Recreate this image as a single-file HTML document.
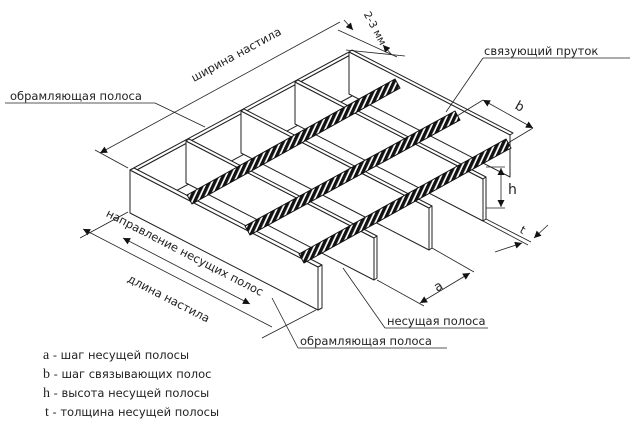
<!DOCTYPE html>
<html><head><meta charset="utf-8"><style>
html,body{margin:0;padding:0;background:#fff;}
svg{display:block}
text{font-family:"DejaVu Sans","Liberation Sans",sans-serif;fill:#222}
</style></head><body>
<svg width="633" height="425" viewBox="0 0 633 425" xmlns="http://www.w3.org/2000/svg">
<defs>
<pattern id="tw" patternUnits="userSpaceOnUse" width="5" height="5" patternTransform="rotate(25)">
<rect width="5" height="5" fill="#fff"/><rect width="3.3" height="5" fill="#111"/>
</pattern>
<marker id="ar" viewBox="0 0 10 10" refX="10" refY="5" markerWidth="10" markerHeight="7" orient="auto-start-reverse" markerUnits="userSpaceOnUse"><path d="M0,0 L10,5 L0,10 z" fill="#111"/></marker>
</defs>
<g stroke="#222" stroke-width="1" fill="#fff" stroke-linejoin="round">
<polygon points="133,172 352,54 352,96 133,214"/>
<polygon points="130,170 349,52 352,54 133,172"/>
<polygon points="349,52 510,135 513,133 352,50"/>
<polygon points="349,52 510,135 510,177 349,94"/>
<polygon points="295,82 483,179 483,221 295,124"/>
<polygon points="295,82 483,179 486,177 298,80"/>
<polygon points="483,179 486,177 486,219 483,221"/>
<polygon points="241,111 429,208 429,250 241,153"/>
<polygon points="241,111 429,208 432,206 244,109"/>
<polygon points="429,208 432,206 432,248 429,250"/>
<polygon points="186,141 374,238 374,280 186,183"/>
<polygon points="186,141 374,238 377,236 189,139"/>
<polygon points="374,238 377,236 377,278 374,280"/>
<polygon points="130,170 318,267 318,310 130,213"/>
<polygon points="130,170 318,267 322,265 134,168"/>
<polygon points="318,267 322,265 322,308 318,310"/>
</g>
<g stroke="#111" stroke-width="1">
<polygon points="187,195 395,79 400,88 192,204" fill="url(#tw)"/>
<polygon points="245,226 455,111 460,120 250,235" fill="url(#tw)"/>
<polygon points="299,254 506,139 511,148 304,263" fill="url(#tw)"/>
</g>
<g stroke="#222" stroke-width="0.8" fill="none">
<line x1="100" y1="153" x2="340" y2="22" marker-start="url(#ar)"/>
<line x1="128" y1="168" x2="95" y2="150"/>
<line x1="338" y1="30" x2="397" y2="57"/>
<line x1="346" y1="50" x2="405" y2="56"/>
<line x1="344" y1="20" x2="353" y2="30" marker-end="url(#ar)"/>
<line x1="392" y1="55" x2="383" y2="45" marker-end="url(#ar)"/>
<line x1="123" y1="238" x2="250" y2="304" marker-start="url(#ar)" marker-end="url(#ar)"/>
<line x1="83" y1="229" x2="272" y2="327" marker-start="url(#ar)"/>
<line x1="128" y1="212" x2="80" y2="238"/>
<line x1="316" y1="310" x2="262" y2="338"/>
<line x1="377" y1="280" x2="424" y2="306"/>
<line x1="432" y1="248" x2="474" y2="272"/>
<line x1="420" y1="303" x2="470" y2="273" marker-start="url(#ar)" marker-end="url(#ar)"/>
<line x1="457" y1="116" x2="483" y2="100"/>
<line x1="508" y1="143" x2="533" y2="128"/>
<line x1="483" y1="100" x2="533" y2="128" marker-start="url(#ar)" marker-end="url(#ar)"/>
<line x1="486" y1="167" x2="505" y2="167"/>
<line x1="486" y1="208" x2="505" y2="208"/>
<line x1="501" y1="168" x2="501" y2="207" marker-start="url(#ar)" marker-end="url(#ar)"/>
<line x1="483" y1="221" x2="528" y2="245"/>
<line x1="486" y1="219" x2="531" y2="242"/>
<line x1="495" y1="252" x2="522" y2="243" marker-end="url(#ar)"/>
<line x1="548" y1="225" x2="534" y2="238" marker-end="url(#ar)"/>
<line x1="5" y1="103" x2="155" y2="103"/>
<line x1="155" y1="103" x2="205" y2="127"/>
<line x1="483" y1="58" x2="630" y2="58"/>
<line x1="483" y1="58" x2="446" y2="112"/>
<line x1="385" y1="328" x2="488" y2="328"/>
<line x1="385" y1="328" x2="343" y2="268"/>
<line x1="298" y1="348" x2="447" y2="348"/>
<line x1="298" y1="348" x2="272" y2="298"/>
</g>
<g font-size="11.5">
<text x="238" y="58" transform="rotate(-28.5 238 58)" text-anchor="middle">ширина настила</text>
<text x="372" y="30" font-size="10.5" transform="rotate(62 372 30)" text-anchor="middle">2-3 мм</text>
<text x="183" y="256" transform="rotate(27.3 183 256)" text-anchor="middle">направление несущих полос</text>
<text x="167" y="302" transform="rotate(27.3 167 302)" text-anchor="middle">длина настила</text>
<text x="10" y="100">обрамляющая полоса</text>
<text x="484" y="55">связующий пруток</text>
<text x="387" y="325">несущая полоса</text>
<text x="300" y="345">обрамляющая полоса</text>
<text x="437" y="292" font-family="Liberation Serif" font-size="13" transform="rotate(-30 437 292)">a</text>
<text x="514" y="108" font-family="Liberation Serif" font-size="13" transform="rotate(30 514 108)">b</text>
<text x="508" y="194" font-family="Liberation Serif" font-size="14">h</text>
<text x="519" y="232" font-family="Liberation Serif" font-size="11" transform="rotate(30 519 232)">t</text>
</g>
<g font-size="11.5">
<text x="43" y="359"><tspan font-family="Liberation Serif" font-size="14">a</tspan> - шаг несущей полосы</text>
<text x="43" y="378"><tspan font-family="Liberation Serif" font-size="14">b</tspan> - шаг связывающих полос</text>
<text x="43" y="397"><tspan font-family="Liberation Serif" font-size="14">h</tspan> - высота несущей полосы</text>
<text x="45" y="416"><tspan font-family="Liberation Serif" font-size="14">t</tspan> - толщина несущей полосы</text>
</g>
</svg>
</body></html>
